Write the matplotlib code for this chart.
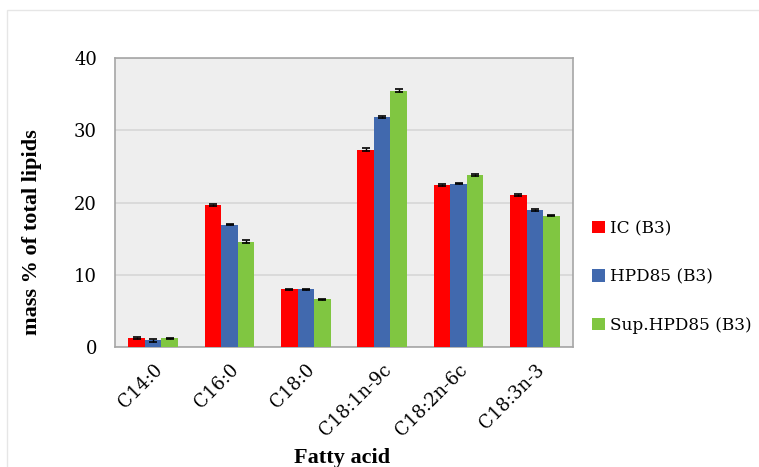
import matplotlib
matplotlib.use("Agg")
import matplotlib.pyplot as plt
from matplotlib.patches import Rectangle
import numpy as np

plt.rcParams["font.family"] = ["DejaVu Serif"]

acids = ["C14:0", "C16:0", "C18:0", "C18:1n-9c", "C18:2n-6c", "C18:3n-3"]
series = ["IC (B3)", "HPD85 (B3)", "Sup.HPD85 (B3)"]
ic = [1.25, 19.65, 7.98, 27.3, 22.4, 21.05]
hpd = [0.9, 16.95, 7.98, 31.85, 22.6, 18.95]
sup = [1.2, 14.6, 6.6, 35.5, 23.8, 18.2]
ic_err = [0.2, 0.2, 0.1, 0.2, 0.1, 0.1]
hpd_err = [0.2, 0.1, 0.1, 0.1, 0.1, 0.1]
sup_err = [0.1, 0.2, 0.1, 0.2, 0.1, 0.1]
colors = ["#FF0000", "#4169AE", "#80C641"]

W, H = 759, 467
fig = plt.figure(figsize=(W / 100, H / 100), dpi=100)
ax = fig.add_axes([115 / W, 1 - 347 / H, 458 / W, 289 / H])
fig.patches.append(Rectangle((7 / W, -0.1), 1.2, 1 - 10 / H + 0.1, transform=fig.transFigure,
                             fill=False, edgecolor="#E6E6E6", linewidth=1))

x = np.arange(len(acids))
w = 0.218
for i, (vals, errs) in enumerate(zip([ic, hpd, sup], [ic_err, hpd_err, sup_err])):
    ax.bar(x + (i - 1) * w, vals, w, color=colors[i], label=series[i], zorder=3,
           yerr=errs, error_kw=dict(ecolor="black", elinewidth=1, capsize=3, capthick=1.2, zorder=4))

ax.set_facecolor("#EEEEEE")
ax.set_xlim(-0.5, len(acids) - 0.5)
ax.set_ylim(0, 40)
ax.set_yticks([0, 10, 20, 30, 40])
ax.grid(axis="y", color="#D6D6D6", linewidth=1.2, zorder=0)
ax.grid(axis="x", visible=False)
for s in ax.spines.values():
    s.set_color("#A6A6A6")
    s.set_linewidth(1.2)
ax.tick_params(axis="y", length=0, labelsize=13, pad=13)
ax.tick_params(axis="x", length=0, labelsize=13, pad=10)
ax.set_xticks(x)
ax.set_xticklabels(acids, rotation=45, ha="right", rotation_mode="anchor")

bold = dict(family=["Liberation Serif"], fontsize=16, fontweight="bold")
fig.text(32 / W, 1 - 232 / H, "mass % of total lipids", rotation=90, ha="center", va="center", **bold)
fig.text(342 / W, 1 - 458 / H, "Fatty acid", ha="center", va="center", **bold)

fig.legend(*ax.get_legend_handles_labels(), loc="center left", bbox_to_anchor=(592 / W, 1 - 277 / H),
           frameon=False, fontsize=12.2, borderpad=0, borderaxespad=0,
           handlelength=0.75, handleheight=0.75, handletextpad=0.3, labelspacing=1.85)

fig.savefig("out.png", dpi=100)
